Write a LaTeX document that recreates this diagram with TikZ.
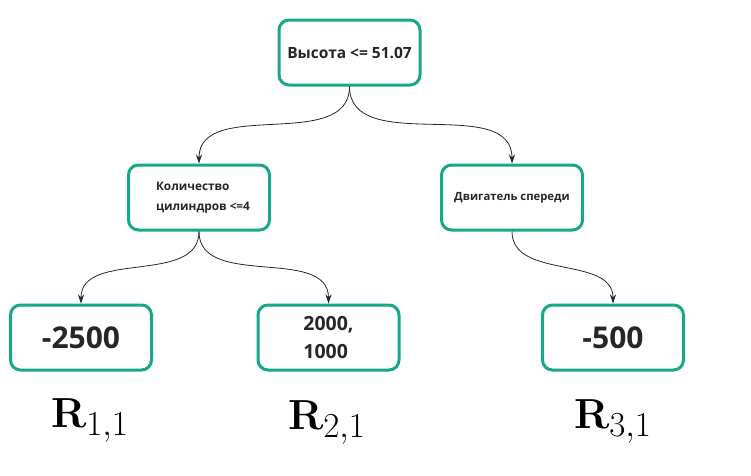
\documentclass[tikz,border=0pt]{standalone}
\usepackage[no-math]{fontspec}
\setmainfont{Open Sans}
\usetikzlibrary{arrows.meta}
\definecolor{treegreen}{RGB}{22,168,136}

\begin{document}
\begin{tikzpicture}[x=1pt,y=1pt,
    box/.style={draw=treegreen, line width=3pt, rounded corners=10pt,
      minimum width=141pt, minimum height=65pt, font=\bfseries, text=black!85},
    region/.style={anchor=base, font=\Huge, scale=1.69},
    arr/.style={-{Stealth[length=9pt,width=6pt]}, black!85, line width=0.8pt}]
    % Set the picture size
    \useasboundingbox (0,0) rectangle (751,-475);

    % Draw the tree nodes
    \node[box, font=\fontsize{15.5}{18}\bfseries] (root) at (349.5,-52.5) {Высота <= 51.07};
    \node[box] (cyl) at (199,-197.5) {};
    \node[font=\fontsize{11.8}{20}\bfseries, align=left, text=black!85] (cyltext) at (203,-198)
      {Количество\\цилиндров <=4};
    \node[box, font=\fontsize{11.3}{16}\bfseries] (eng) at (512,-197.5) {Двигатель спереди};

    % Draw the leaves
    \node[box, font=\fontsize{30}{36}\bfseries] (leafa) at (81,-337.5) {-2500};
    \node[box, font=\fontsize{19.5}{28}\bfseries, align=left] (leafb) at (328.5,-337.5) {2000,\\1000};
    \node[box, font=\fontsize{30}{36}\bfseries] (leafc) at (613,-337.5) {-500};

    % Region labels
    \node[region] (ra) at (90,-427) {$\mathbf{R}_{1,1}$};
    \node[region] (rb) at (327,-429) {$\mathbf{R}_{2,1}$};
    \node[region] (rc) at (613,-428) {$\mathbf{R}_{3,1}$};

    % Draw the branches
    \draw[arr] (root.south) to[out=-90,in=90] (cyl.north);
    \draw[arr] (root.south) to[out=-90,in=90] (eng.north);
    \draw[arr] (cyl.south) to[out=-90,in=90] (leafa.north);
    \draw[arr] (cyl.south) to[out=-90,in=90] (leafb.north);
    \draw[arr] (eng.south) to[out=-90,in=90] (leafc.north);
\end{tikzpicture}
\end{document}
